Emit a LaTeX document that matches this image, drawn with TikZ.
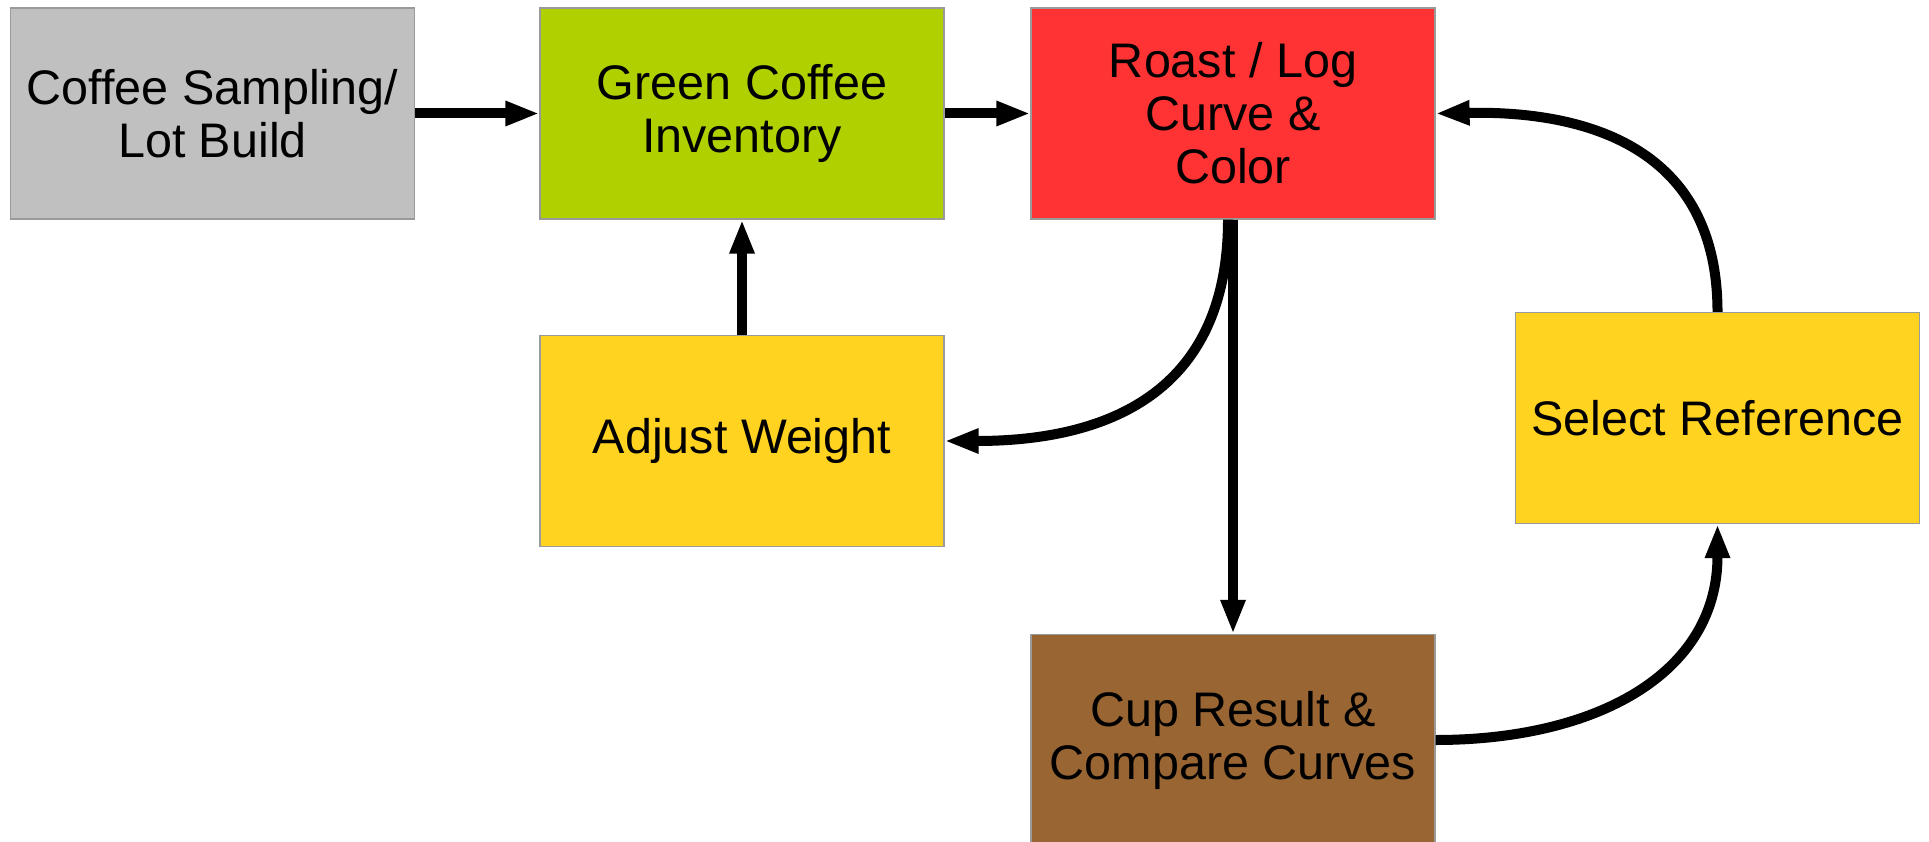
\documentclass[tikz,border=0pt]{standalone}
\usepackage{fontspec}
\setmainfont{Liberation Sans}
\usetikzlibrary{arrows.meta}
\definecolor{cgray}{HTML}{C0C0C0}
\definecolor{cgreen}{HTML}{B0D000}
\definecolor{cred}{HTML}{FF3333}
\definecolor{cyellow}{HTML}{FFD320}
\definecolor{cbrown}{HTML}{996633}
\definecolor{cborder}{HTML}{9A9A9A}
\begin{document}
\begin{tikzpicture}[x=1pt,y=-1pt,
  box/.style={draw=cborder,line width=1.2pt,minimum width=404pt,minimum height=211pt,
    inner sep=0pt,align=center,font=\fontsize{48.5}{53}\selectfont},
  arr/.style={line width=10pt,-{Triangle[length=34pt,width=23pt]}}]
\useasboundingbox[fill=white] (0,0) rectangle (1929,842);
\node[box,fill=cgray] (samp) at (212.5,113.5) {Coffee Sampling/\\Lot Build};
\node[box,fill=cgreen] (green) at (742,113.5) {Green Coffee\\Inventory};
\node[box,fill=cred] (roast) at (1233,113.5) {Roast / Log\\Curve \&\\Color};
\node[box,fill=cyellow] (adj) at (742,441) {Adjust Weight};
\node[box,fill=cyellow] (sel) at (1717.5,418) {Select Reference};
\node[box,fill=cbrown] (cup) at (1233,740) {Cup Result \&\\Compare Curves};
\draw[arr] (samp) -- (green);
\draw[arr] (green) -- (roast);
\draw[arr] (adj.north) -- (green.south);
\draw[arr] (roast.south) -- (cup.north);
\draw[arr] ([xshift=-5pt]roast.south) .. controls +(0,175) and +(160,0) .. (adj.east);
\draw[arr] (sel.north) .. controls +(0,-165) and +(150,-3) .. (roast.east);
\draw[arr] (cup.east) .. controls +(160,0) and +(0,150) .. (sel.south);
\end{tikzpicture}
\end{document}
